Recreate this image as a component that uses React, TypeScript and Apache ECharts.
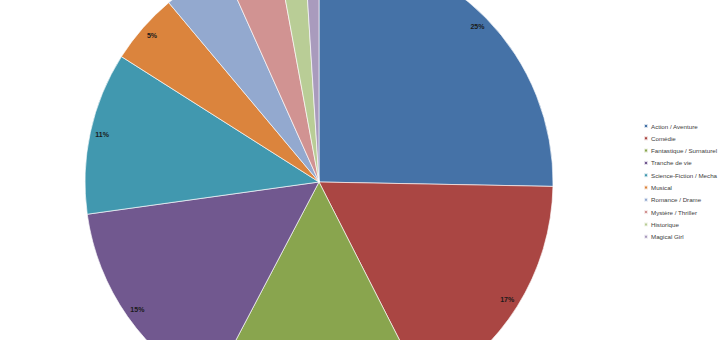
import React, { useEffect, useRef } from "react";
import * as echarts from "echarts";

const categories = [
  "Action / Aventure",
  "Comédie",
  "Fantastique / Surnaturel",
  "Tranche de vie",
  "Science-Fiction / Mecha",
  "Musical",
  "Romance / Drame",
  "Mystère / Thriller",
  "Historique",
  "Magical Girl",
];
const shares = [25.3, 17.2, 15.2, 15.1, 11.2, 4.9, 4.4, 3.8, 1.9, 1.0];
const showLabel = [true, true, false, true, true, true, false, false, false, false];
const colors = [
  "#4572A7",
  "#AA4643",
  "#89A54E",
  "#71588F",
  "#4198AF",
  "#DB843D",
  "#93A9CF",
  "#D19392",
  "#B9CD96",
  "#A99BBD",
];

export default function App() {
  const ref = useRef<HTMLDivElement>(null);
  useEffect(() => {
    document.body.style.margin = "0";
    const chart = echarts.init(ref.current!, null, { renderer: "svg" });
    const data = categories.map((name, i) => ({
      name,
      value: shares[i],
      itemStyle: { color: colors[i] },
    }));
    chart.setOption({
      animation: false,
      backgroundColor: "#ffffff",
      legend: {
        orient: "vertical",
        left: 638,
        top: 117,
        icon: "rect",
        itemWidth: 4,
        itemHeight: 4,
        itemGap: 4.3,
        data: categories,
        textStyle: {
          fontFamily: "Liberation Sans, Arial, sans-serif",
          fontSize: 6.2,
          lineHeight: 8,
          color: "#404040",
          padding: [0, 0, 0, -2],
        },
      },
      series: [
        {
          type: "pie",
          center: [319, 182],
          radius: [0, 234],
          startAngle: 90,
          clockwise: true,
          data,
          label: { show: false },
          labelLine: { show: false },
          itemStyle: { borderColor: "rgba(255,255,255,0.8)", borderWidth: 0.8 },
          emphasis: { disabled: true },
        },
        {
          type: "pie",
          center: [319, 182],
          radius: [207, 231],
          startAngle: 90,
          clockwise: true,
          silent: true,
          data: categories.map((name, i) => ({
            name,
            value: shares[i],
            label: { show: showLabel[i] },
          })),
          itemStyle: { color: "rgba(0,0,0,0)", borderWidth: 0 },
          labelLine: { show: false },
          label: {
            show: true,
            position: "inside",
            formatter: (p: any) => Math.round(p.percent) + "%",
            fontFamily: "Liberation Sans, Arial, sans-serif",
            fontSize: 7,
            fontWeight: "bold",
            color: "#1a1a1a",
          },
          emphasis: { disabled: true },
        },
      ],
    });
    return () => chart.dispose();
  }, []);
  return <div ref={ref} style={{ width: 720, height: 340 }} />;
}
